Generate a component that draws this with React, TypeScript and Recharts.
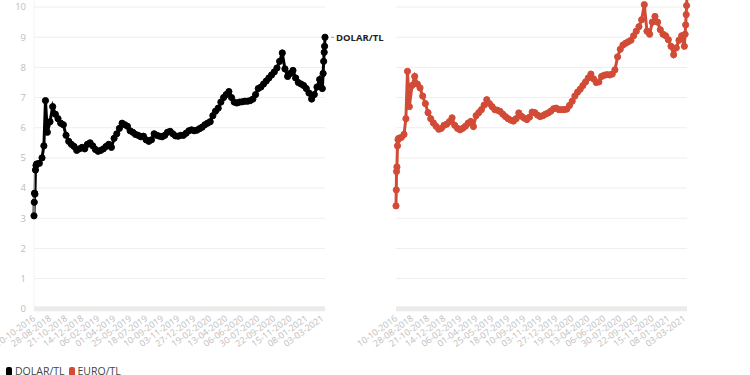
import React from 'react';
import { LineChart, Line, XAxis, YAxis, CartesianGrid } from 'recharts';

// x tick labels (one every 6 steps on the position scale)
const tickLabels = [
  '10-10-2016', '28-08-2018', '21-10-2018', '14-12-2018', '06-02-2019', '01-04-2019',
  '25-05-2019', '18-07-2019', '10-09-2019', '03-11-2019', '27-12-2019', '19-02-2020',
  '13-04-2020', '06-06-2020', '30-07-2020', '22-09-2020', '15-11-2020', '08-01-2021', '03-03-2021',
];
const tickPositions = tickLabels.map((_, i) => i * 6);
const yTicks = [0, 1, 2, 3, 4, 5, 6, 7, 8, 9, 10];

// sample positions along the category axis
const positions = [
  0, 0.1, 0.2, 0.35, 0.55, 0.75, 1, 2, 3, 3.7, 4.3,
  ...Array.from({ length: 104 }, (_, k) => k + 5),
  108.3, 108.5, 108.7, 108.85, 109,
];

const dolar = [
  3.08, 3.53, 3.83, 3.8, 4.6, 4.75, 4.8, 4.82, 5.0, 5.4, 6.9,
  5.85, 6.2, 6.7, 6.45, 6.3, 6.15, 6.1, 5.75, 5.55, 5.45,
  5.38, 5.25, 5.3, 5.35, 5.3, 5.45, 5.5, 5.4, 5.28, 5.22,
  5.25, 5.3, 5.38, 5.45, 5.35, 5.65, 5.8, 5.98, 6.15, 6.1,
  6.05, 5.9, 5.85, 5.78, 5.75, 5.7, 5.72, 5.6, 5.55, 5.6,
  5.8, 5.75, 5.72, 5.7, 5.75, 5.85, 5.88, 5.8, 5.73, 5.72,
  5.75, 5.75, 5.82, 5.9, 5.93, 5.9, 5.92, 5.97, 6.02, 6.1,
  6.15, 6.2, 6.4, 6.55, 6.65, 6.85, 7.0, 7.1, 7.2, 7.0,
  6.85, 6.82, 6.85, 6.86, 6.88, 6.88, 6.9, 6.95, 7.1, 7.3,
  7.35, 7.45, 7.55, 7.65, 7.75, 7.85, 7.98, 8.2, 8.48, 7.95,
  7.7, 7.8, 7.9, 7.65, 7.5, 7.45, 7.4, 7.3, 7.15, 6.95,
  7.1, 7.35, 7.6, 7.3,
  7.8, 8.2, 8.5, 8.7, 9.0,
];

const euro = [
  3.41, 3.94, 4.55, 4.7, 5.4, 5.6, 5.65, 5.68, 5.78, 6.3, 7.87,
  6.7, 7.4, 7.7, 7.45, 7.32, 7.05, 6.8, 6.5, 6.3, 6.16,
  6.05, 5.95, 5.98, 6.08, 6.12, 6.2, 6.33, 6.08, 5.98, 5.93,
  5.98, 6.05, 6.15, 6.21, 6.04, 6.4, 6.5, 6.6, 6.75, 6.93,
  6.8, 6.7, 6.6, 6.58, 6.54, 6.45, 6.37, 6.3, 6.25, 6.22,
  6.3, 6.49, 6.38, 6.32, 6.27, 6.35, 6.52, 6.5, 6.42, 6.37,
  6.4, 6.45, 6.49, 6.55, 6.63, 6.65, 6.6, 6.6, 6.6, 6.62,
  6.74, 6.88, 7.05, 7.18, 7.28, 7.4, 7.52, 7.65, 7.78, 7.62,
  7.5, 7.52, 7.7, 7.74, 7.76, 7.75, 7.78, 7.92, 8.35, 8.6,
  8.74, 8.8, 8.85, 8.9, 9.05, 9.2, 9.35, 9.58, 10.08, 9.2,
  9.1, 9.5, 9.69, 9.5, 9.25, 9.1, 9.05, 8.92, 8.7, 8.42,
  8.65, 8.9, 9.05, 8.7,
  9.1, 9.41, 9.75, 10.05, 10.4,
];

const data = positions.map((t, i) => ({ t, dolar: dolar[i], euro: euro[i] }));

const yMax = Math.max(...euro);
const UNIT = 30.17; // px per unit on the y scale
const PLOT_W = 291;
const PLOT_H = UNIT * yMax;
const PLOT_BOTTOM = 309;
const TOP_MARGIN = 10;
const X_AXIS_H = 52;
const CHART_H = TOP_MARGIN + PLOT_H + X_AXIS_H;
const CHART_TOP = PLOT_BOTTOM - PLOT_H - TOP_MARGIN;
const lastIndex = data.length - 1;

const XTick = (props: any) => {
  const { x, y, payload } = props;
  const label = tickLabels[Math.round(payload.value / 6)];
  return (
    <g transform={`translate(${x + 2},${y + 3})`}>
      <text textAnchor="end" transform="rotate(-36)" fontSize={9} fill="#bdbdbd">
        {label}
      </text>
    </g>
  );
};

const makeDot = (color: string, name: string) => (props: any) => {
  const { cx, cy, index } = props;
  return (
    <g key={`d-${index}`}>
      <circle cx={cx} cy={cy} r={3.1} fill={color} stroke={color} strokeWidth={1} />
      {index === lastIndex && (
        <g>
          <line x1={cx + 6} x2={cx + 9} y1={cy} y2={cy} stroke="#999" strokeWidth={1} />
          <text x={cx + 11} y={cy} dy={3.5} fontSize={9.5} fontWeight="bold" fill="#222">
            {name}
          </text>
        </g>
      )}
    </g>
  );
};

interface PanelProps {
  left: number;
  width: number;
  padLeft: number;
  dataKey: string;
  color: string;
  name: string;
  showY: boolean;
}

const Panel: React.FC<PanelProps> = ({ left, width, padLeft, dataKey, color, name, showY }) => {
  const yWidth = showY ? 34 : 0;
  return (
    <div style={{ position: 'absolute', left, top: CHART_TOP }}>
      <LineChart
        width={width}
        height={CHART_H}
        data={data}
        margin={{ top: TOP_MARGIN, right: width - padLeft - yWidth - PLOT_W, left: padLeft, bottom: 0 }}
      >
        <CartesianGrid horizontal vertical={false} stroke="#eeeeee" />
        <XAxis
          dataKey="t"
          type="number"
          domain={[0, 109]}
          ticks={tickPositions}
          interval={0}
          tickLine={false}
          axisLine={{ stroke: '#ebebeb', strokeWidth: 5 }}
          tick={<XTick />}
          height={X_AXIS_H}
        />
        <YAxis
          type="number"
          domain={[0, yMax]}
          ticks={yTicks}
          hide={!showY}
          width={yWidth}
          tickLine={false}
          axisLine={{ stroke: '#f3f3f3' }}
          tick={{ fontSize: 9.5, fill: '#bdbdbd' }}
        />
        <Line
          type="linear"
          dataKey={dataKey}
          stroke={color}
          strokeWidth={3}
          dot={makeDot(color, name)}
          activeDot={false}
          isAnimationActive={false}
        />
      </LineChart>
    </div>
  );
};

const App: React.FC = () => {
  return (
    <div
      style={{
        position: 'absolute',
        left: 0,
        top: 0,
        width: 750,
        height: 375,
        overflow: 'hidden',
        background: '#fff',
        fontFamily: '"Open Sans", sans-serif',
      }}
    >
      <Panel left={0} width={400} padLeft={0} dataKey="dolar" color="#000000" name="DOLAR/TL" showY />
      <Panel left={356} width={394} padLeft={40} dataKey="euro" color="#d14b36" name="EURO/TL" showY={false} />
      <div
        style={{
          position: 'absolute',
          left: 6,
          top: 364,
          display: 'flex',
          alignItems: 'center',
          fontSize: 10.5,
          color: '#444',
          lineHeight: '14px',
        }}
      >
        <span style={{ width: 6, height: 9, background: '#000', borderRadius: 2, marginRight: 3 }} />
        <span style={{ marginRight: 4 }}>DOLAR/TL</span>
        <span style={{ width: 6, height: 9, background: '#d14b36', borderRadius: 2, marginRight: 3 }} />
        <span>EURO/TL</span>
      </div>
    </div>
  );
};

export default App;
